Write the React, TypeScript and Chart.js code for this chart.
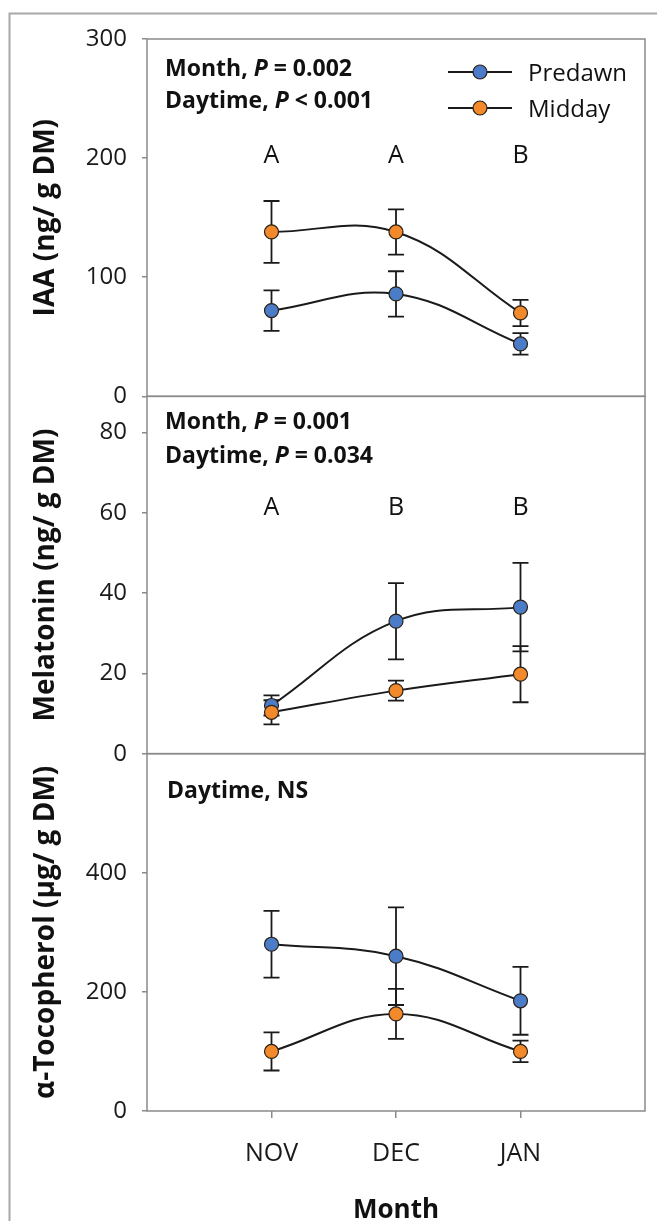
import { useEffect, useRef } from 'react';
import { Chart, registerables } from 'chart.js';

Chart.register(...registerables);

// Sampling months (x positions 1..3)
const months = ['NOV', 'DEC', 'JAN'];

// IAA (ng/ g DM)
const iaaPredawn = [72, 86, 44];
const iaaPredawnErr = [17, 19, 9];
const iaaMidday = [138, 138, 70];
const iaaMiddayErr = [26, 19, 11];
const iaaLetters = ['A', 'A', 'B'];
const iaaTicks = [0, 100, 200, 300];

// Melatonin (ng/ g DM)
const melPredawn = [12, 33, 36.5];
const melPredawnErr = [2.5, 9.5, 11];
const melMidday = [10.3, 15.7, 19.8];
const melMiddayErr = [3, 2.5, 7];
const melLetters = ['A', 'B', 'B'];
const melTicks = [0, 20, 40, 60, 80];

// alpha-Tocopherol (µg/ g DM)
const tocPredawn = [280, 260, 185];
const tocPredawnErr = [56, 82, 57];
const tocMidday = [100, 163, 100];
const tocMiddayErr = [32, 42, 18];
const tocTicks = [0, 200, 400];

// Statistics notes per panel: [text, italic] runs per line
const iaaStats = [
  [['Month, ', false], ['P', true], [' = 0.002', false]],
  [['Daytime, ', false], ['P', true], [' < 0.001', false]],
];
const melStats = [
  [['Month, ', false], ['P', true], [' = 0.001', false]],
  [['Daytime, ', false], ['P', true], [' = 0.034', false]],
];
const tocStats = [[['Daytime, NS', false]]];

const FONT = '"Open Sans", "DejaVu Sans", sans-serif';
const BLUE = '#4A7CC7';
const ORANGE = '#F28A2B';
const INK = '#1a1a1a';
const BOX = '#8a8a8a';

const toPoints = (values: number[]) => values.map((y, i) => ({ x: i + 1, y }));

function series(label: string, values: number[], errors: number[], axis: string, color: string, order: number) {
  return {
    label,
    data: toPoints(values),
    errors,
    yAxisID: axis,
    borderColor: INK,
    borderWidth: 2,
    tension: 0.4,
    pointRadius: 7,
    pointHoverRadius: 7,
    pointBackgroundColor: color,
    pointBorderColor: '#2b2118',
    pointBorderWidth: 1.2,
    order,
    clip: false,
  };
}

function yAxis(title: string, max: number, ticks: number[]) {
  return {
    type: 'linear',
    position: 'left',
    stack: 'panels',
    stackWeight: 1,
    min: 0,
    max,
    afterBuildTicks: (s: any) => {
      s.ticks = ticks.map((v) => ({ value: v }));
    },
    afterFit: (s: any) => {
      s.width = 147;
    },
    border: { display: false },
    grid: { drawOnChartArea: false, drawTicks: true, tickLength: 5, color: BOX, lineWidth: 1.5 },
    ticks: { padding: 15, color: INK, font: { family: FONT, size: 24 } },
    title: {
      display: true,
      text: title,
      color: '#111',
      font: { family: FONT, size: 28, weight: 'bold', lineHeight: 1 },
      padding: { top: 32, bottom: 0 },
    },
  };
}

function drawRuns(ctx: CanvasRenderingContext2D, runs: any[], x: number, y: number, size: number) {
  let cx = x;
  for (const [text, italic] of runs) {
    ctx.font = `${italic ? 'italic ' : ''}bold ${size}px ${FONT}`;
    ctx.fillText(text, cx, y);
    cx += ctx.measureText(text).width;
  }
}

const panelPlugin = {
  id: 'panels',
  beforeDatasetsDraw(chart: any) {
    const { ctx, chartArea } = chart;
    const xs = chart.scales.x;
    ctx.save();
    // panel frames
    ctx.strokeStyle = BOX;
    ctx.lineWidth = 1.5;
    for (const id of ['yIaa', 'yMel', 'yToc']) {
      const s = chart.scales[id];
      ctx.strokeRect(chartArea.left, s.top, chartArea.right - chartArea.left, s.bottom - s.top);
    }
    // error bars
    ctx.strokeStyle = INK;
    ctx.lineWidth = 1.8;
    chart.data.datasets.forEach((ds: any) => {
      const ys = chart.scales[ds.yAxisID];
      ds.data.forEach((p: any, j: number) => {
        const e = ds.errors[j];
        const px = xs.getPixelForValue(p.x);
        const top = ys.getPixelForValue(p.y + e);
        const bot = ys.getPixelForValue(p.y - e);
        ctx.beginPath();
        ctx.moveTo(px, top);
        ctx.lineTo(px, bot);
        ctx.moveTo(px - 8, top);
        ctx.lineTo(px + 8, top);
        ctx.moveTo(px - 8, bot);
        ctx.lineTo(px + 8, bot);
        ctx.stroke();
      });
    });
    ctx.restore();
  },
  afterDraw(chart: any) {
    const { ctx, chartArea } = chart;
    const xs = chart.scales.x;
    const yIaa = chart.scales.yIaa;
    const yMel = chart.scales.yMel;
    const yToc = chart.scales.yToc;
    const left = chartArea.left;
    ctx.save();
    ctx.fillStyle = '#111';
    ctx.textAlign = 'left';
    ctx.textBaseline = 'alphabetic';

    // statistics notes
    drawRuns(ctx, iaaStats[0], left + 18, yIaa.top + 37, 23);
    drawRuns(ctx, iaaStats[1], left + 18, yIaa.top + 69, 23);
    drawRuns(ctx, melStats[0], left + 18, yMel.top + 33, 23);
    drawRuns(ctx, melStats[1], left + 18, yMel.top + 67, 23);
    drawRuns(ctx, tocStats[0], left + 20, yToc.top + 44, 23);

    // significance letters
    ctx.font = `25px ${FONT}`;
    ctx.textAlign = 'center';
    iaaLetters.forEach((t, i) => ctx.fillText(t, xs.getPixelForValue(i + 1), yIaa.getPixelForValue(196)));
    melLetters.forEach((t, i) => ctx.fillText(t, xs.getPixelForValue(i + 1), yMel.getPixelForValue(59.4)));

    // legend
    const entries = [
      ['Predawn', BLUE],
      ['Midday', ORANGE],
    ];
    entries.forEach(([name, color], i) => {
      const cy = yIaa.top + 33 + i * 36;
      const x0 = left + 301;
      ctx.strokeStyle = INK;
      ctx.lineWidth = 2;
      ctx.beginPath();
      ctx.moveTo(x0, cy);
      ctx.lineTo(x0 + 64, cy);
      ctx.stroke();
      ctx.beginPath();
      ctx.arc(x0 + 32, cy, 7, 0, Math.PI * 2);
      ctx.fillStyle = color;
      ctx.fill();
      ctx.lineWidth = 1.2;
      ctx.strokeStyle = '#2b2118';
      ctx.stroke();
      ctx.fillStyle = '#111';
      ctx.textAlign = 'left';
      ctx.font = `24px ${FONT}`;
      ctx.fillText(name, x0 + 80, cy + 8.5);
    });

    // outer figure frame
    ctx.strokeStyle = '#a8a8a8';
    ctx.lineWidth = 2;
    ctx.beginPath();
    ctx.moveTo(9.5, chart.height);
    ctx.lineTo(9.5, 13.5);
    ctx.lineTo(chart.width, 13.5);
    ctx.stroke();
    ctx.restore();
  },
};

export default function App() {
  const ref = useRef<HTMLCanvasElement>(null);

  useEffect(() => {
    const chart = new Chart(ref.current as HTMLCanvasElement, {
      type: 'line',
      data: {
        datasets: [
          series('Midday', iaaMidday, iaaMiddayErr, 'yIaa', ORANGE, 0),
          series('Predawn', iaaPredawn, iaaPredawnErr, 'yIaa', BLUE, 1),
          series('Midday', melMidday, melMiddayErr, 'yMel', ORANGE, 0),
          series('Predawn', melPredawn, melPredawnErr, 'yMel', BLUE, 1),
          series('Midday', tocMidday, tocMiddayErr, 'yToc', ORANGE, 0),
          series('Predawn', tocPredawn, tocPredawnErr, 'yToc', BLUE, 1),
        ] as any,
      },
      options: {
        responsive: false,
        animation: false,
        devicePixelRatio: 1,
        layout: { padding: { left: 0, right: 12, top: 39, bottom: 0 } },
        plugins: { legend: { display: false }, tooltip: { enabled: false } },
        events: [],
        scales: {
          x: {
            type: 'linear',
            min: 0,
            max: 4,
            afterBuildTicks: (s: any) => {
              s.ticks = [1, 2, 3].map((v) => ({ value: v }));
            },
            afterFit: (s: any) => {
              s.height = 110;
            },
            border: { display: false },
            grid: { drawOnChartArea: false, drawTicks: true, tickLength: 7, color: BOX, lineWidth: 1.5 },
            ticks: {
              padding: 21,
              color: INK,
              font: { family: FONT, size: 25 },
              callback: (v: any) => months[Math.round(Number(v)) - 1],
            },
            title: {
              display: true,
              text: 'Month',
              color: '#111',
              font: { family: FONT, size: 26, weight: 'bold', lineHeight: 0.8 },
              padding: { top: 0, bottom: 0 },
            },
          },
          yToc: yAxis('α-Tocopherol (μg/ g DM)', 600, tocTicks),
          yMel: yAxis('Melatonin (ng/ g DM)', 89, melTicks),
          yIaa: yAxis('IAA (ng/ g DM)', 300, iaaTicks),
        } as any,
      },
      plugins: [panelPlugin],
    });
    return () => chart.destroy();
  }, []);

  return (
    <canvas
      ref={ref}
      width={657}
      height={1221}
      style={{ position: 'fixed', left: 0, top: 0, width: 657, height: 1221, background: '#fff' }}
    />
  );
}
